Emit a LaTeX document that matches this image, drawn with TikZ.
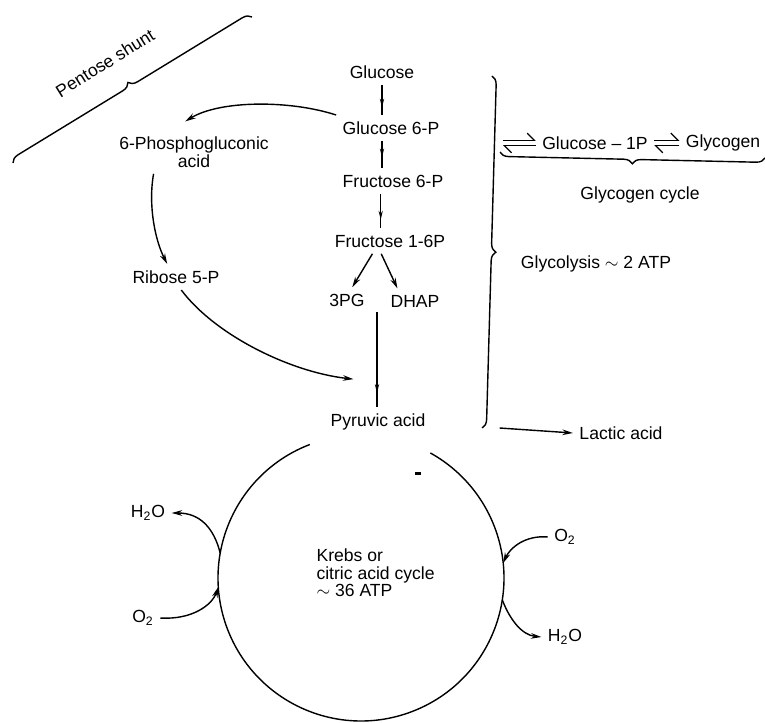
\documentclass[tikz,border=0pt]{standalone}
\usepackage{fontspec}
\setmainfont{Liberation Sans}
\usetikzlibrary{arrows.meta,decorations.pathreplacing,decorations.markings}
\begin{document}
\begin{tikzpicture}[x=0.02cm, y=0.02cm, line width=0.8pt,
  arr/.style={-{Stealth[length=6pt,width=3.2pt]}},
  midarr/.style={decoration={markings,
      mark=at position #1 with {\arrow{Stealth[length=5pt,width=2.4pt]}}},
    postaction={decorate}},
  midarr/.default=0.75,
  bracket/.style={decorate, decoration={brace, amplitude=5pt}},
  harp/.style={line width=0.7pt, -{Straight Barb[left,length=4pt]}}]
\useasboundingbox (0,0) rectangle (765,-723);

% pentose shunt
\draw[bracket] (13,-163) -- (252,-17);
\node[rotate=32] (shunt) at (105,-63) {Pentose shunt};

% glycolysis chain
\node (glu)  at (382,-72)  {Glucose};
\node (g6p)  at (391,-128) {Glucose 6-P};
\node (f6p)  at (393,-181) {Fructose 6-P};
\node (f16)  at (390,-241) {Fructose 1-6P};
\node (pg)   at (347,-300) {3PG};
\node (dhap) at (415,-301) {DHAP};
\node (pyr)  at (378,-422) {Pyruvic acid};
\coordinate (join) at (377,-312);

\draw[midarr] (glu.south) -- (glu.south |- g6p.north);
\draw[midarr=0.6] (glu.south |- g6p.south) -- (glu.south |- f6p.north);
\draw[midarr] ([xshift=-7pt]f6p.south) -- ([xshift=-7pt]f6p.south |- f16.north);
\draw[arr] ([xshift=-10pt]f16.south) -- ([xshift=3pt]pg.north);
\draw[arr] ([xshift=-5pt]f16.south) -- ([xshift=-10pt]dhap.north);
\draw[midarr=0.85] (join) -- (join |- pyr.north);

% pentose side
\node[align=center] (pgl) at (194,-152) {6-Phosphogluconic\\[-2pt]acid};
\node (rib) at (176,-277) {Ribose 5-P};
\draw[arr] (g6p.north west) .. controls (290,-100) and (220,-100) .. ([shift={(-5pt,5pt)}]pgl.north);
\draw[arr] ([xshift=-23pt]pgl.south) .. controls (148,-205) and (155,-240) .. ([xshift=-5pt]rib.north);
\draw[arr] ([xshift=3pt]rib.south) .. controls (215,-335) and (290,-372) .. ([shift={(-14pt,16pt)}]pyr.north);

% glycolysis brace
\coordinate (gtop) at (492,-76);
\coordinate (gbot) at (482,-428);
\draw[bracket] (gtop) -- (gbot);
\node (glyco) at (596,-264) {Glycolysis $\sim$ 2 ATP};
\node (lac) at (621,-433) {Lactic acid};
\draw[arr] ([xshift=10pt]gbot) -- (lac.west);

% glycogen cycle
\coordinate (hl) at (503,-143);
\node (g1p)  at (595,-143) {Glucose -- 1P};
\node (glyc) at (723,-143) {Glycogen};
\draw[harp] ([yshift=1.6pt]hl) -- ([yshift=1.6pt]g1p.west);
\draw[harp] ([yshift=-1.6pt]g1p.west) -- ([yshift=-1.6pt]hl);
\draw[harp] ([yshift=1.6pt]g1p.east) -- ([yshift=1.6pt]glyc.west);
\draw[harp] ([yshift=-1.6pt]glyc.west) -- ([yshift=-1.6pt]g1p.east);
\draw[bracket] (765,-158) -- (500,-152);
\node (gcyc) at (640,-195) {Glycogen cycle};

% krebs cycle
\coordinate (kc) at (361,-578);
\draw (kc) ++(111:2.86cm) arc[start angle=111, end angle=421, radius=2.86cm];
\fill (415,-472) rectangle (421,-475);
\node[align=left, anchor=west] (krebs) at (310,-573) {Krebs or\\[-2pt]citric acid cycle\\[-2pt]$\sim$ 36 ATP};
\path (kc) ++(170:2.86cm) coordinate (kw1);
\path (kc) ++(183.6:2.86cm) coordinate (kw2);
\path (kc) ++(6:2.86cm) coordinate (ke1);
\path (kc) ++(-8.8:2.86cm) coordinate (ke2);

\node (h2ol) at (148,-513) {H\textsubscript{2}O};
\node (o2l)  at (143,-618) {O\textsubscript{2}};
\node (o2r)  at (565,-537) {O\textsubscript{2}};
\node (h2or) at (565,-637) {H\textsubscript{2}O};
\draw[arr] (kw1) .. controls (214,-528) and (200,-513) .. (h2ol.east);
\draw[arr] (o2l.east) .. controls (192,-620) and (212,-605) .. (kw2);
\draw[arr] (o2r.west) .. controls (525,-535) and (510,-548) .. (ke1);
\draw[arr] (ke2) .. controls (510,-620) and (522,-635) .. (h2or.west);
\end{tikzpicture}
\end{document}
